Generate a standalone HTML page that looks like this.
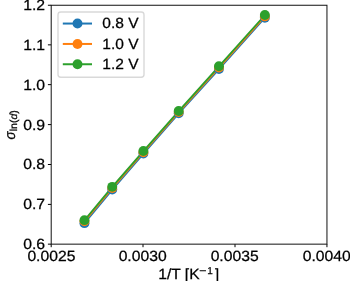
<!DOCTYPE html>
<html><head><meta charset="utf-8">
<style>
html,body{margin:0;padding:0;background:#fff;width:350px;height:281px;overflow:hidden}
svg{display:block;will-change:transform}
text{font-family:"Liberation Sans",sans-serif;fill:#000;stroke:#000;stroke-width:0.25px;text-rendering:geometricPrecision}
</style></head>
<body>
<svg width="350" height="281" viewBox="0 0 350 281">
<rect width="350" height="281" fill="#fff"/>

<g stroke="#000" stroke-width="1.0">
<line x1="47.9" y1="244.15" x2="51.2" y2="244.15"/>
<line x1="47.9" y1="204.4" x2="51.2" y2="204.4"/>
<line x1="47.9" y1="164.5" x2="51.2" y2="164.5"/>
<line x1="47.9" y1="124.6" x2="51.2" y2="124.6"/>
<line x1="47.9" y1="84.65" x2="51.2" y2="84.65"/>
<line x1="47.9" y1="44.85" x2="51.2" y2="44.85"/>
<line x1="47.9" y1="5.25" x2="51.2" y2="5.25"/>
<line x1="51.2" y1="244.15" x2="51.2" y2="247.2"/>
<line x1="143.0" y1="244.15" x2="143.0" y2="247.2"/>
<line x1="235.0" y1="244.15" x2="235.0" y2="247.2"/>
<line x1="326.95" y1="244.15" x2="326.95" y2="247.2"/>
</g>
<g font-size="14.8" text-anchor="end">
<text x="45.1" y="249" textLength="21.9" lengthAdjust="spacingAndGlyphs">0.6</text>
<text x="45.1" y="209" textLength="21.9" lengthAdjust="spacingAndGlyphs">0.7</text>
<text x="45.1" y="169" textLength="21.9" lengthAdjust="spacingAndGlyphs">0.8</text>
<text x="45.1" y="130" textLength="21.9" lengthAdjust="spacingAndGlyphs">0.9</text>
<text x="45.1" y="90" textLength="21.9" lengthAdjust="spacingAndGlyphs">1.0</text>
<text x="45.1" y="50" textLength="21.9" lengthAdjust="spacingAndGlyphs">1.1</text>
<text x="45.1" y="10" textLength="21.9" lengthAdjust="spacingAndGlyphs">1.2</text>
</g>
<g font-size="14.8" text-anchor="middle">
<text x="51.4" y="261" textLength="48.0" lengthAdjust="spacingAndGlyphs">0.0025</text>
<text x="142.65" y="261" textLength="48.0" lengthAdjust="spacingAndGlyphs">0.0030</text>
<text x="234.65" y="261" textLength="48.0" lengthAdjust="spacingAndGlyphs">0.0035</text>
<text x="326.7" y="261" textLength="48.0" lengthAdjust="spacingAndGlyphs">0.0040</text>
</g>
<text x="158.2" y="278.8" font-size="14.8" textLength="41.4" lengthAdjust="spacingAndGlyphs">1/T [K</text>
<text x="199.2" y="274" font-size="10" textLength="7.2" lengthAdjust="spacingAndGlyphs">−</text>
<text x="207.3" y="273.6" font-size="10">1</text>
<text x="215.1" y="278.8" font-size="14.8">]</text>
<g transform="translate(15.3,139.6) rotate(-90)">
<text x="0" y="0" font-size="14.8" font-style="italic" textLength="8.0" lengthAdjust="spacingAndGlyphs">σ</text>
<text x="8.4" y="1.8" font-size="10.2" textLength="21.0" lengthAdjust="spacingAndGlyphs">ln(<tspan font-style="italic">d</tspan>)</text>
</g>
<g fill="none" stroke-width="2.0" stroke-linejoin="round" stroke-linecap="square">
<polyline stroke="#1f77b4" points="84.45,223.15 112.25,189.55 143.40,153.55 178.70,113.35 218.95,69.05 264.85,17.70"/>
<polyline stroke="#ff7f0e" points="84.45,221.30 112.25,188.00 143.40,152.20 178.70,112.10 218.95,67.50 264.85,16.40"/>
<polyline stroke="#2ca02c" stroke-width="1.8" points="84.45,220.25 112.25,186.95 143.40,151.15 178.70,111.15 218.95,66.40 264.85,15.15"/>
</g>
<g fill="#1f77b4"><circle cx="84.45" cy="223.15" r="4.95"/><circle cx="112.25" cy="189.55" r="4.95"/><circle cx="143.40" cy="153.55" r="4.95"/><circle cx="178.70" cy="113.35" r="4.95"/><circle cx="218.95" cy="69.05" r="4.95"/><circle cx="264.85" cy="17.70" r="4.95"/></g>
<g fill="#ff7f0e"><circle cx="84.45" cy="221.30" r="4.95"/><circle cx="112.25" cy="188.00" r="4.95"/><circle cx="143.40" cy="152.20" r="4.95"/><circle cx="178.70" cy="112.10" r="4.95"/><circle cx="218.95" cy="67.50" r="4.95"/><circle cx="264.85" cy="16.40" r="4.95"/></g>
<g fill="#2ca02c"><circle cx="84.45" cy="220.15" r="4.95"/><circle cx="112.25" cy="186.85" r="4.95"/><circle cx="143.40" cy="151.05" r="4.95"/><circle cx="178.70" cy="111.05" r="4.95"/><circle cx="218.95" cy="66.30" r="4.95"/><circle cx="264.85" cy="15.05" r="4.95"/></g>
<rect x="51.2" y="5.25" width="275.75" height="238.9" fill="none" stroke="#111" stroke-width="1.0"/>
<rect x="58.0" y="12.0" width="86.0" height="65.2" rx="2.8" ry="2.8" fill="#fff" fill-opacity="0.8" stroke="#d9d9d9" stroke-width="1.39"/>
<line x1="62.8" y1="23.55" x2="92.0" y2="23.55" stroke="#1f77b4" stroke-width="2.0"/>
<circle cx="77.5" cy="23.55" r="4.95" fill="#1f77b4"/>
<text x="102.3" y="28" font-size="14.8" textLength="36.3" lengthAdjust="spacingAndGlyphs">0.8 V</text>
<line x1="62.8" y1="43.95" x2="92.0" y2="43.95" stroke="#ff7f0e" stroke-width="2.0"/>
<circle cx="77.5" cy="43.95" r="4.95" fill="#ff7f0e"/>
<text x="102.3" y="49" font-size="14.8" textLength="36.3" lengthAdjust="spacingAndGlyphs">1.0 V</text>
<line x1="62.8" y1="64.25" x2="92.0" y2="64.25" stroke="#2ca02c" stroke-width="2.0"/>
<circle cx="77.5" cy="64.25" r="4.95" fill="#2ca02c"/>
<text x="102.3" y="69" font-size="14.8" textLength="36.3" lengthAdjust="spacingAndGlyphs">1.2 V</text>
</svg>
</body></html>
